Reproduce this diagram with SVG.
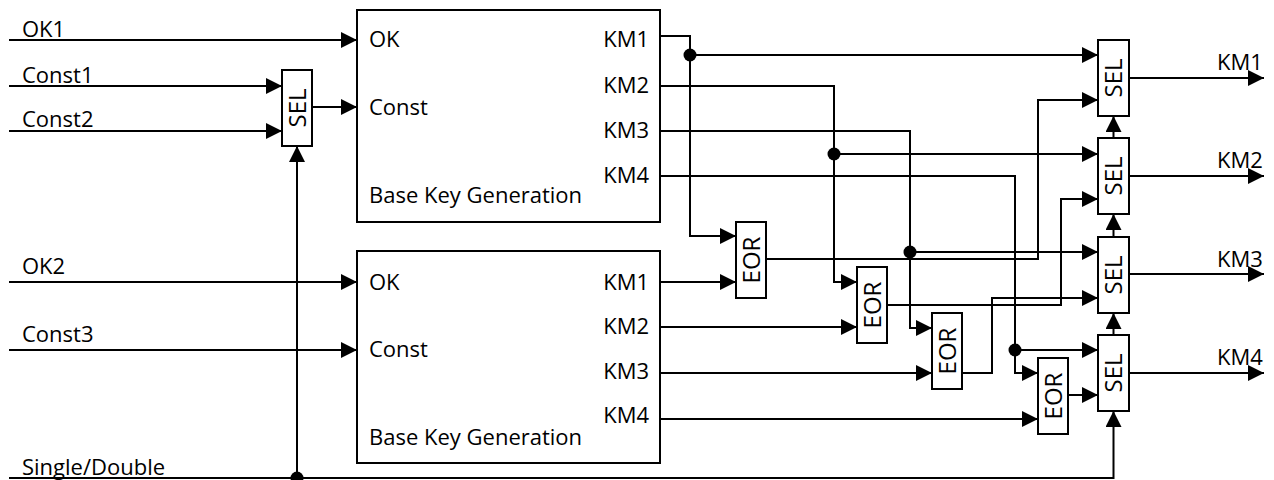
<svg xmlns="http://www.w3.org/2000/svg" width="1274" height="480" viewBox="0 0 1274 480">
<style>
.box{fill:#fff;stroke:#000;stroke-width:2}
.w{fill:none;stroke:#000;stroke-width:2}
.arr{marker-end:url(#ah)}
text{font-family:"Open Sans","DejaVu Sans",sans-serif;font-size:22px;fill:#000}
.rot{font-size:24px;text-anchor:middle}
.e{text-anchor:end}
.dot{fill:#000}
</style>
<defs>
<marker id="ah" viewBox="0 0 16 16" refX="16" refY="8" markerWidth="16" markerHeight="16" markerUnits="userSpaceOnUse" orient="auto"><path d="M0,0 L16,8 L0,16 z" fill="#000"/></marker>
</defs>
<rect width="1274" height="480" fill="#fff"/>

<g id="inputs">
<text x="22" y="37">OK1</text>
<text x="22" y="83">Const1</text>
<text x="22" y="127">Const2</text>
<text x="22" y="274">OK2</text>
<text x="22" y="342">Const3</text>
<text x="22" y="475">Single/Double</text>
</g>

<g id="connectors">
<path class="w arr" d="M9,40 H357"/>
<path class="w arr" d="M9,86 H282"/>
<path class="w arr" d="M9,131 H282"/>
<path class="w arr" d="M312,107 H357"/>
<path class="w arr" d="M9,282 H357"/>
<path class="w arr" d="M9,350 H357"/>
<path class="w arr" d="M297,478 V146"/>
<path class="w arr" d="M9,478 H1113.5 V411"/>
<path class="w arr" d="M660,36 H690 V236 H736"/>
<path class="w arr" d="M690,55 H1098"/>
<path class="w arr" d="M660,86 H834 V282 H857"/>
<path class="w arr" d="M834,154 H1098"/>
<path class="w arr" d="M660,131 H910 V328 H932"/>
<path class="w arr" d="M910,252 H1098"/>
<path class="w arr" d="M660,176 H1015 V373 H1038"/>
<path class="w arr" d="M1015,350 H1098"/>
<path class="w arr" d="M660,282 H736"/>
<path class="w arr" d="M660,327 H857"/>
<path class="w arr" d="M660,373 H932"/>
<path class="w arr" d="M660,419 H1038"/>
<path class="w arr" d="M766,259 H1038 V100 H1098"/>
<path class="w arr" d="M887,305 H1061 V199 H1098"/>
<path class="w arr" d="M962,373 H992 V298 H1098"/>
<path class="w arr" d="M1068,395 H1098"/>
<path class="w arr" d="M1113.5,138 V116"/>
<path class="w arr" d="M1113.5,237 V214"/>
<path class="w arr" d="M1113.5,335 V313"/>
<path class="w arr" d="M1129,78 H1264"/>
<path class="w arr" d="M1129,176 H1264"/>
<path class="w arr" d="M1129,274 H1264"/>
<path class="w arr" d="M1129,373 H1264"/>
<circle class="dot" cx="690" cy="55" r="6.5"/>
<circle class="dot" cx="834" cy="154" r="6.5"/>
<circle class="dot" cx="910" cy="252" r="6.5"/>
<circle class="dot" cx="1015" cy="350" r="6.5"/>
<circle class="dot" cx="297" cy="478" r="6.5"/>
</g>

<g id="sel0">
<rect class="box" x="282" y="70" width="30" height="76"/>
<text class="rot" transform="translate(297,108) rotate(-90)" y="8.5">SEL</text>
</g>

<g id="bkg1">
<rect class="box" x="357" y="10" width="303" height="212"/>
<text x="369" y="47">OK</text>
<text x="369" y="115">Const</text>
<text x="369" y="203">Base Key Generation</text>
<text class="e" x="649" y="47">KM1</text>
<text class="e" x="649" y="93">KM2</text>
<text class="e" x="649" y="138">KM3</text>
<text class="e" x="649" y="183">KM4</text>
</g>

<g id="bkg2">
<rect class="box" x="357" y="251" width="303" height="212"/>
<text x="369" y="290">OK</text>
<text x="369" y="357">Const</text>
<text x="369" y="445">Base Key Generation</text>
<text class="e" x="649" y="290">KM1</text>
<text class="e" x="649" y="334">KM2</text>
<text class="e" x="649" y="379">KM3</text>
<text class="e" x="649" y="423">KM4</text>
</g>

<g id="eor1">
<rect class="box" x="736" y="222" width="30" height="76"/>
<text class="rot" transform="translate(751,260) rotate(-90)" y="8.5">EOR</text>
</g>
<g id="eor2">
<rect class="box" x="857" y="267" width="30" height="76"/>
<text class="rot" transform="translate(872,305) rotate(-90)" y="8.5">EOR</text>
</g>
<g id="eor3">
<rect class="box" x="932" y="313" width="30" height="76"/>
<text class="rot" transform="translate(947,351) rotate(-90)" y="8.5">EOR</text>
</g>
<g id="eor4">
<rect class="box" x="1038" y="358" width="30" height="76"/>
<text class="rot" transform="translate(1053,396) rotate(-90)" y="8.5">EOR</text>
</g>

<g id="sel1">
<rect class="box" x="1098" y="40" width="31" height="76"/>
<text class="rot" transform="translate(1113.5,78) rotate(-90)" y="8.5">SEL</text>
</g>
<g id="sel2">
<rect class="box" x="1098" y="138" width="31" height="76"/>
<text class="rot" transform="translate(1113.5,176) rotate(-90)" y="8.5">SEL</text>
</g>
<g id="sel3">
<rect class="box" x="1098" y="237" width="31" height="76"/>
<text class="rot" transform="translate(1113.5,275) rotate(-90)" y="8.5">SEL</text>
</g>
<g id="sel4">
<rect class="box" x="1098" y="335" width="31" height="76"/>
<text class="rot" transform="translate(1113.5,373) rotate(-90)" y="8.5">SEL</text>
</g>

<g id="outputs">
<text x="1217" y="70">KM1</text>
<text x="1217" y="168">KM2</text>
<text x="1217" y="267">KM3</text>
<text x="1217" y="365">KM4</text>
</g>
</svg>
